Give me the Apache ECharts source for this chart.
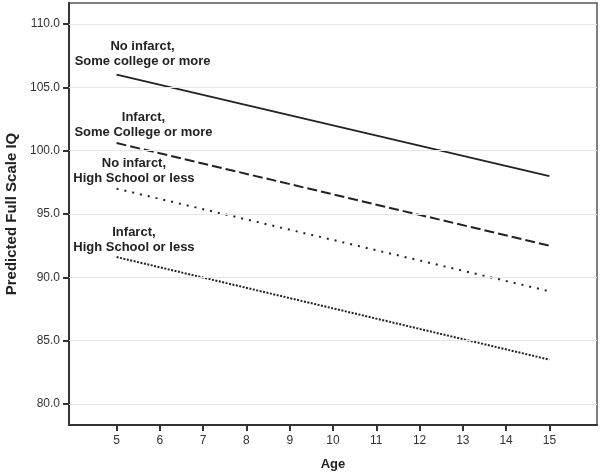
<!DOCTYPE html>
<html><head><meta charset="utf-8">
<script src="https://cdn.jsdelivr.net/npm/echarts@6/dist/echarts.min.js"></script>
<style>html,body{margin:0;padding:0;background:#fff}#c{width:601px;height:476px}</style>
</head><body><div id="c"></div>
<script>
var ages = [5, 15];
var noInfarctCollege = [106.0, 98.0];
var infarctCollege = [100.6, 92.5];
var noInfarctHS = [97.0, 88.9];
var infarctHS = [91.6, 83.5];
var seriesNames = ['No infarct,\nSome college or more', 'Infarct,\nSome College or more', 'No infarct,\nHigh School or less', 'Infarct,\nHigh School or less'];
var labelX = [5.6, 5.62, 5.4, 5.4];
var labelY = [107.6, 102.07, 98.43, 92.95];
var xTicks = [5, 6, 7, 8, 9, 10, 11, 12, 13, 14, 15];
var yTicks = [80, 85, 90, 95, 100, 105, 110];

var FONT = 'Liberation Sans, Arial, sans-serif';
var allSeries = [noInfarctCollege, infarctCollege, noInfarctHS, infarctHS];
var styles = [
  {type: 'solid', width: 1.8},
  {type: [10, 4], width: 2},
  {type: [2, 6], width: 2},
  {type: [2, 1.5], width: 2}
];
var series = allSeries.map(function (vals, i) {
  return {
    type: 'line', name: seriesNames[i], symbol: 'none', silent: true,
    data: ages.map(function (a, j) { return [a, vals[j]]; }),
    lineStyle: {color: '#222', width: styles[i].width, type: styles[i].type},
    markPoint: {
      symbol: 'circle', symbolSize: 0, silent: true,
      data: [{coord: [labelX[i], labelY[i]], value: 0}],
      label: {show: true, position: 'inside', formatter: seriesNames[i], color: '#222',
        fontFamily: FONT, fontWeight: 'bold', fontSize: 13,
        lineHeight: 15, align: 'center'}
    }
  };
});
series.push({
  type: 'line', data: [], silent: true,
  markLine: {symbol: 'none', silent: true, label: {show: false},
    lineStyle: {color: '#e6e6e6', width: 1, type: 'solid'},
    data: yTicks.map(function (v) { return {yAxis: v}; })}
});

var chart = echarts.init(document.getElementById('c'), null, {renderer: 'canvas'});
chart.setOption({
  animation: false,
  backgroundColor: '#fff',
  grid: {left: 69, right: 4, top: 3, bottom: 51, containLabel: false, outerBoundsMode: 'none',
    show: true, borderColor: '#555', borderWidth: 1.5, backgroundColor: 'transparent'},
  xAxis: {
    type: 'value', min: 3.9, max: 16.1,
    name: 'Age', nameLocation: 'middle', nameGap: 33,
    nameTextStyle: {fontFamily: FONT, fontWeight: 'bold', fontSize: 13, color: '#222'},
    axisLine: {show: true, lineStyle: {color: '#333', width: 2}},
    axisTick: {show: true, length: 6, customValues: xTicks, lineStyle: {color: '#333', width: 2}},
    axisLabel: {customValues: xTicks, margin: 10, fontFamily: FONT, fontSize: 12, color: '#333',
      formatter: function (v) { return String(v); }},
    splitLine: {show: false}
  },
  yAxis: {
    type: 'value', min: 78.34, max: 111.66,
    name: 'Predicted Full Scale IQ', nameLocation: 'middle', nameGap: 44,
    nameTextStyle: {fontFamily: FONT, fontWeight: 'bold', fontSize: 15, color: '#222'},
    axisLine: {show: true, lineStyle: {color: '#333', width: 2}},
    axisTick: {show: true, length: 6, customValues: yTicks, lineStyle: {color: '#333', width: 2}},
    axisLabel: {customValues: yTicks, margin: 9, fontFamily: FONT, fontSize: 12, color: '#333',
      formatter: function (v) { return v.toFixed(1); }},
    splitLine: {show: false}
  },
  series: series
});
</script></body></html>
